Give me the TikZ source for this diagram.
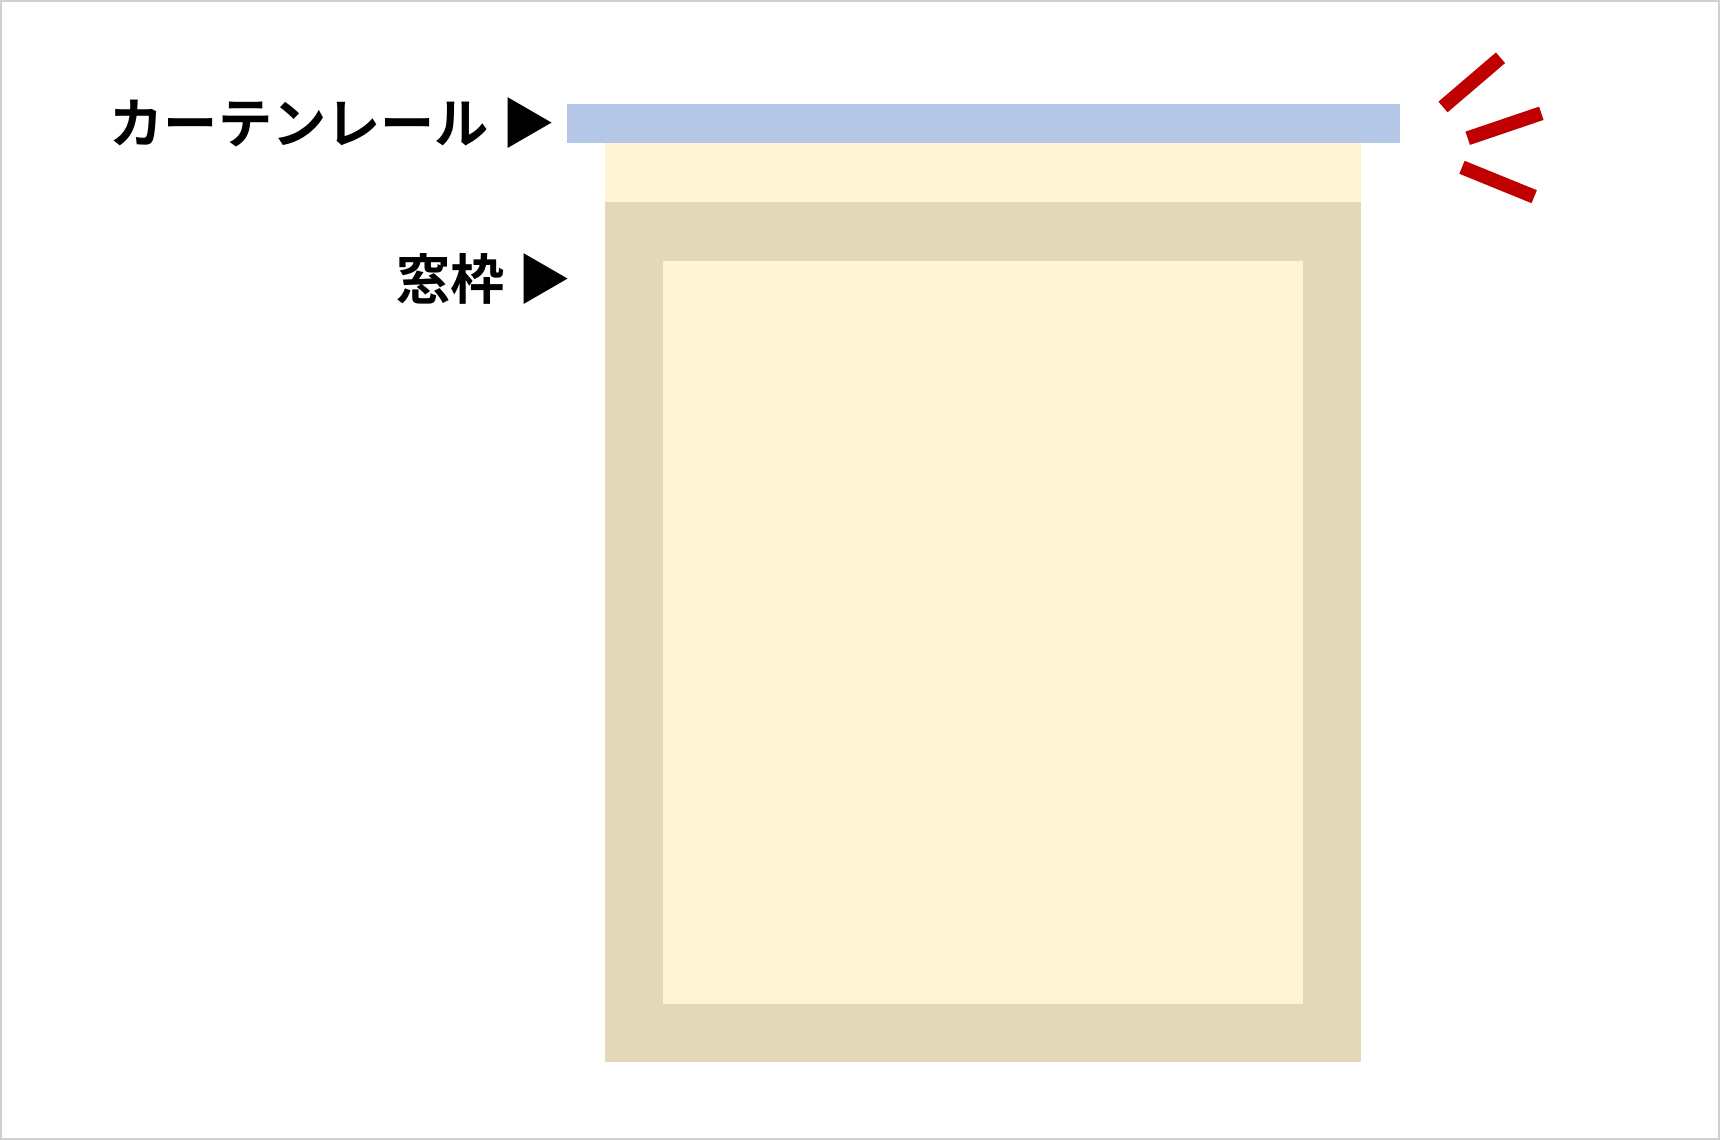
\documentclass[tikz,border=0pt]{standalone}
\usepackage{fontspec}
\newfontfamily\jpfont{Noto Sans CJK JP}[UprightFont={* Bold}]
\usetikzlibrary{positioning}
\definecolor{railblue}{HTML}{B4C7E7}
\definecolor{framebeige}{HTML}{E3D9B8}
\definecolor{glasscream}{HTML}{FEF4D6}
\definecolor{markred}{HTML}{C00000}
\definecolor{edgegray}{HTML}{D0D0D0}
\newcommand{\RAILL}{566.5}
\newcommand{\RAILR}{1400}
\newcommand{\RAILT}{104}
\newcommand{\RAILB}{143}
\newcommand{\FRAMEL}{604.5}
\newcommand{\FRAMER}{1361}
\newcommand{\FRAMET}{202.5}
\newcommand{\FRAMEB}{1062}
\newcommand{\GLASSL}{663}
\newcommand{\GLASSR}{1303}
\newcommand{\GLASST}{261}
\newcommand{\GLASSB}{1004}

\begin{document}
\begin{tikzpicture}[x=0.01cm,y=-0.01cm]
\tikzstyle{every node}=[font=\jpfont\fontsize{15.4pt}{17pt}\selectfont,inner sep=0pt]
\tikzstyle{redmark}=[draw=markred,line width=0.14cm]
% Page
	\useasboundingbox (0,0) rectangle (1720,1140);
	\draw[edgegray,line width=0.02cm] (1,1) rectangle (1719,1139);

% Window
	\fill[glasscream] ({\FRAMEL},{\RAILB}) rectangle ({\FRAMER},{\FRAMET});
	\fill[framebeige] ({\FRAMEL},{\FRAMET}) rectangle ({\FRAMER},{\FRAMEB});
	\fill[glasscream] ({\GLASSL},{\GLASST}) rectangle ({\GLASSR},{\GLASSB});

% Rail
	\fill[railblue] ({\RAILL},{\RAILT}) rectangle ({\RAILR},{\RAILB});

% Labels
	\node[anchor=east] (raillabel) at (556,123) {カーテンレール ▶};
	\node[anchor=east] (framelabel) at (572,279) {窓枠 ▶};

% Marks
	\draw[redmark] (1443,107) -- (1500.5,57.8);
	\draw[redmark] (1467.7,138.3) -- (1541.3,113.3);
	\draw[redmark] (1462,167.3) -- (1534.2,196.7);

\end{tikzpicture}
\end{document}
